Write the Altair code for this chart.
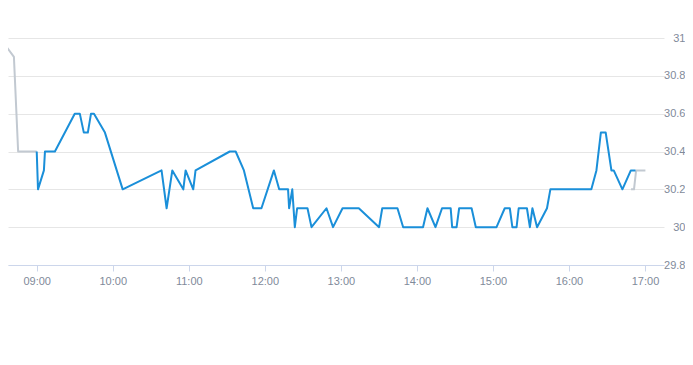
import altair as alt
import pandas as pd

DAY = "2024-01-01T"

# main (blue) series
blue_times = ["09:00:00","09:01:00","09:05:40","09:06:30","09:14:20","09:30:00","09:34:00","09:37:10","09:40:20","09:42:50",
              "09:45:10","09:53:50","10:07:50","10:38:30","10:42:30","10:47:00","10:55:40","10:57:30","11:03:30","11:05:20",
              "11:32:20","11:37:00","11:43:30","11:50:50","11:57:20","12:07:10","12:11:20","12:18:20","12:19:10","12:21:40",
              "12:23:40","12:25:30","12:33:40","12:36:50","12:48:40","12:53:50","13:01:20","13:14:10","13:30:10","13:32:40",
              "13:44:40","13:49:10","14:04:50","14:08:20","14:14:40","14:19:50","14:26:40","14:27:50","14:31:20","14:33:20",
              "14:43:10","14:46:30","15:02:50","15:09:20","15:13:20","15:15:20","15:18:40","15:20:20","15:26:50","15:29:10",
              "15:31:10","15:34:50","15:42:40","15:45:20","16:17:40","16:21:40","16:25:10","16:29:00","16:33:30","16:35:20",
              "16:42:10","16:48:50","16:52:30"]
blue_values = [30.4,30.2,30.3,30.4,30.4,30.6,30.6,30.5,30.5,30.6,
               30.6,30.5,30.2,30.3,30.1,30.3,30.2,30.3,30.2,30.3,
               30.4,30.4,30.3,30.1,30.1,30.3,30.2,30.2,30.1,30.2,
               30.0,30.1,30.1,30.0,30.1,30.0,30.1,30.1,30.0,30.1,
               30.1,30.0,30.0,30.1,30.0,30.1,30.1,30.0,30.0,30.1,
               30.1,30.0,30.0,30.1,30.1,30.0,30.0,30.1,30.1,30.0,
               30.1,30.0,30.1,30.2,30.2,30.3,30.5,30.5,30.3,30.3,
               30.2,30.3,30.3]

# grey segments before and after
pre_times = ["08:31:00","08:42:00","08:45:20","09:00:00"]
pre_values = [31.0,30.9,30.4,30.4]
post_times = ["16:49:00","16:51:20","16:53:00","17:00:20"]
post_values = [30.2,30.2,30.3,30.3]

tick_hours = [9,10,11,12,13,14,15,16,17]
y_ticks = [29.8,30.0,30.2,30.4,30.6,30.8,31.0]

blue_df = pd.DataFrame({"t": [DAY + s for s in blue_times], "v": blue_values})
grey_df = pd.DataFrame({
    "t": [DAY + s for s in pre_times] + [DAY + s for s in post_times],
    "v": pre_values + post_values,
    "seg": ["pre"] * len(pre_times) + ["post"] * len(post_times),
})

FONT = "Liberation Sans"
LBL = "#7f8a9a"

x_enc = alt.X(
    "t:T",
    title=None,
    scale=alt.Scale(domain=[alt.DateTime(year=2024, month=1, date=1, hours=8, minutes=37, seconds=20),
                            alt.DateTime(year=2024, month=1, date=1, hours=17, minutes=15)]),
    axis=alt.Axis(
        values=[alt.DateTime(year=2024, month=1, date=1, hours=h) for h in tick_hours],
        format="%H:%M", grid=False, domainColor="#ccd6eb", tickColor="#ccd6eb", tickSize=6,
        labelPadding=4, labelFont=FONT, labelFontSize=11, labelColor=LBL, labelFlush=False,
    ),
)
y_enc = alt.Y(
    "v:Q",
    title=None,
    scale=alt.Scale(domain=[29.8, 31.0], nice=False, zero=False),
    axis=alt.Axis(
        orient="right", values=y_ticks, format="~f", domain=False, ticks=False,
        grid=True, gridColor="#e6e6e6", labelAlign="right", labelPadding=21,
        labelBaseline="middle", labelFont=FONT, labelFontSize=11, labelColor=LBL,
    ),
)

grey = alt.Chart(grey_df).mark_line(color="#c2c9d1", strokeWidth=2, clip=True, strokeJoin="round").encode(
    x=x_enc, y=y_enc, detail="seg:N"
)
blue = alt.Chart(blue_df).mark_line(color="#1a8fd9", strokeWidth=2, clip=True, strokeJoin="round").encode(
    x=x_enc, y=y_enc
)

chart = alt.layer(grey, blue).properties(
    width=656, height=227,
    autosize=alt.AutoSizeParams(type="none"),
    padding={"left": 0, "top": 30, "right": 21, "bottom": 50},
).configure_view(stroke=None)

chart.save("out.html", embed_options={"renderer": "svg", "actions": False})
